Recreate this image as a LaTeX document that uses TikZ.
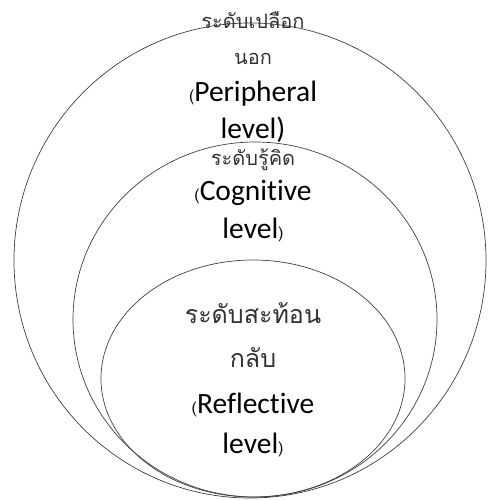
\documentclass[tikz,border=0pt]{standalone}
\usepackage{fontspec}
\setmainfont{Carlito}[Ligatures=NoCommon]
\newfontfamily\thaifont[Script=Thai]{Loma}
\newcommand{\Lpar}{{\thaifont\fontsize{16}{16}\selectfont(}}
\newcommand{\Rpar}{{\thaifont\fontsize{16}{16}\selectfont)}}

\begin{document}
\begin{tikzpicture}[x=1pt, y=-1pt,
    levelring/.style={draw=black!75, line width=0.7pt},
    thai/.style={anchor=base, inner sep=0pt, text=black!80, font=\thaifont\fontsize{20}{24}\selectfont},
    thaibig/.style={thai, font=\thaifont\fontsize{25}{30}\selectfont},
    eng/.style={anchor=base, inner sep=0pt, text=black, font=\fontsize{29.5}{34}\selectfont}]
    \useasboundingbox (0,0) rectangle (487,500);

    % Levels
    \draw[levelring] (250,260.5) ellipse (236 and 237.5);
    \draw[levelring] (255,319.5) ellipse (182 and 177.5);
    \draw[levelring] (253,378.5) ellipse (152 and 118.5);

    % Peripheral level
    \node[thai] (periTh) at (253,29) {ระดับเปลือก};
    \node[thai] (periTh2) at (253,65) {นอก};
    \node[eng] (periEn) at (253,102) {\Lpar Peripheral};
    \node[eng] (periEn2) at (253,138) {level)};

    % Cognitive level
    \node[thai] (cogTh) at (253,165) {ระดับรู้คิด};
    \node[eng] (cogEn) at (253,200) {\Lpar Cognitive};
    \node[eng] (cogEn2) at (253,238) {level\Rpar};

    % Reflective level
    \node[thaibig] (refTh) at (253,323) {ระดับสะท้อน};
    \node[thaibig] (refTh2) at (253,367) {กลับ};
    \node[eng] (refEn) at (253,413) {\Lpar Reflective};
    \node[eng] (refEn2) at (253,453) {level\Rpar};
\end{tikzpicture}
\end{document}
